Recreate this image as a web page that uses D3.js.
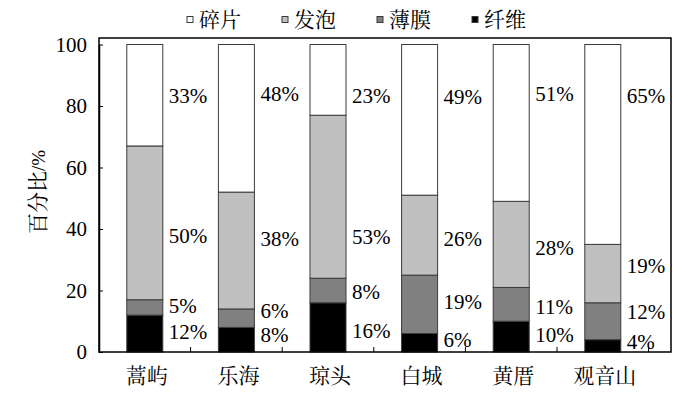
<!DOCTYPE html>
<html><head><meta charset="utf-8">
<script src="https://cdn.jsdelivr.net/npm/d3@7"></script>
<style>
html,body{margin:0;padding:0;background:#fff;}
svg{display:block;}
</style>
</head><body>
<svg id="chart" width="700" height="393"></svg>
<script>
// ---- data ----
const categories = ["蒿屿", "乐海", "琼头", "白城", "黄厝", "观音山"];
const seriesNames = ["纤维", "薄膜", "发泡", "碎片"];          // bottom -> top
const fiber    = [12, 8, 16, 6, 10, 4];
const film     = [5, 6, 8, 19, 11, 12];
const foam     = [50, 38, 53, 26, 28, 19];
const fragment = [33, 48, 23, 49, 51, 65];
// label anchor values (y-axis units) as placed in the picture
const fiberLabelAt    = [6.5, 5.5, 7.1, 3.9, 5.5, 3.3];
const filmLabelAt     = [15, 13.3, 19.6, 16.3, 14.7, 13.1];
const foamLabelAt     = [38, 37, 37.4, 37, 33.8, 28.2];
const fragmentLabelAt = [83.4, 84, 83.4, 83, 84, 83.4];
const yTicks = [0, 20, 40, 60, 80, 100];
const legendOrder = ["碎片", "发泡", "薄膜", "纤维"];
const yTitle = "百分比/%";

// ---- build ----
const seriesValues = [fiber, film, foam, fragment];
const labelAts = [fiberLabelAt, filmLabelAt, foamLabelAt, fragmentLabelAt];
const colors = {"纤维": "#000000", "薄膜": "#808080", "发泡": "#c0c0c0", "碎片": "#ffffff"};

const table = categories.map((c, i) => {
  const row = {cat: c};
  seriesNames.forEach((s, k) => row[s] = seriesValues[k][i]);
  return row;
});
const stacked = d3.stack().keys(seriesNames)(table);

const SERIF = '"Liberation Serif"';
const CJK = '"Noto Serif CJK SC"';

const svg = d3.select("#chart");
svg.append("rect").attr("width", 700).attr("height", 393).attr("fill", "#fff");

const frame = {left: 99, right: 671, top: 38, bottom: 352};
const x = d3.scaleBand().domain(categories).range([99, 648.6]).padding(0);
const y = d3.scaleLinear().domain([0, 100]).range([352, 44.5]);
const barW = x.bandwidth() * 0.393;

// bars
const g = svg.append("g");
stacked.forEach(layer => {
  g.selectAll(null).data(layer).enter().append("rect")
    .attr("x", d => x(d.data.cat) + (x.bandwidth() - barW) / 2)
    .attr("y", d => y(d[1]))
    .attr("width", barW)
    .attr("height", d => y(d[0]) - y(d[1]))
    .attr("fill", colors[layer.key])
    .attr("stroke", "#3a3a3a")
    .attr("stroke-width", 1);
});

// value labels
stacked.forEach((layer, k) => {
  g.selectAll(null).data(layer).enter().append("text")
    .style("font-family", SERIF)
    .style("font-size", "21px")
    .attr("x", d => x(d.data.cat) + (x.bandwidth() + barW) / 2 + 6)
    .attr("y", (d, i) => y(labelAts[k][i]))
    .attr("dy", "0.35em")
    .attr("fill", "#000")
    .text(d => (d[1] - d[0]) + "%");
});

// frame
svg.append("rect")
  .attr("x", frame.left).attr("y", frame.top)
  .attr("width", frame.right - frame.left).attr("height", frame.bottom - frame.top)
  .attr("fill", "none").attr("stroke", "#000").attr("stroke-width", 1.5);

// y axis
const yAxis = d3.axisLeft(y).tickValues(yTicks).tickSizeInner(-4).tickSizeOuter(0).tickPadding(12);
const ya = svg.append("g").attr("transform", `translate(${frame.left},0)`).call(yAxis);
ya.select(".domain").attr("stroke", "#000").attr("stroke-width", 1.5);
ya.selectAll(".tick line").attr("stroke", "#000").attr("stroke-width", 1);
ya.selectAll(".tick text").style("font-family", SERIF).style("font-size", "21px").attr("fill", "#000");

// x axis: ticks at band boundaries pointing up, labels at band centers
const xa = svg.append("g").attr("transform", `translate(0,${frame.bottom})`);
xa.selectAll("line.bt").data(categories).enter().append("line")
  .attr("x1", d => x(d) + x.bandwidth()).attr("x2", d => x(d) + x.bandwidth())
  .attr("y1", 0).attr("y2", -5).attr("stroke", "#000").attr("stroke-width", 1);
xa.selectAll("text").data(categories).enter().append("text")
  .style("font-family", CJK).style("font-size", "21px")
  .attr("x", d => x(d) + x.bandwidth() / 2 + 2)
  .attr("y", 24).attr("dy", "0.35em")
  .attr("text-anchor", "middle")
  .attr("fill", "#000")
  .text(d => d);

// y title
const yt = svg.append("text")
  .style("font-family", CJK).style("font-size", "21px")
  .attr("transform", "translate(38,192) rotate(-90)")
  .attr("text-anchor", "middle").attr("dy", "0.35em")
  .attr("fill", "#000");
yt.append("tspan").text(yTitle.slice(0, 3));
yt.append("tspan").style("font-family", SERIF).style("font-size", "19px").text(yTitle.slice(3));

// legend
const lg = svg.append("g");
const legX = d3.scalePoint().domain(legendOrder).range([187, 472]);
legendOrder.forEach(name => {
  lg.append("rect")
    .attr("x", legX(name)).attr("y", 16.5).attr("width", 6).attr("height", 6)
    .attr("fill", colors[name]).attr("stroke", "#3a3a3a").attr("stroke-width", 1);
  lg.append("text")
    .style("font-family", CJK).style("font-size", "21px")
    .attr("x", legX(name) + 12).attr("y", 20).attr("dy", "0.35em")
    .attr("fill", "#000")
    .text(name);
});
</script>
</body></html>
